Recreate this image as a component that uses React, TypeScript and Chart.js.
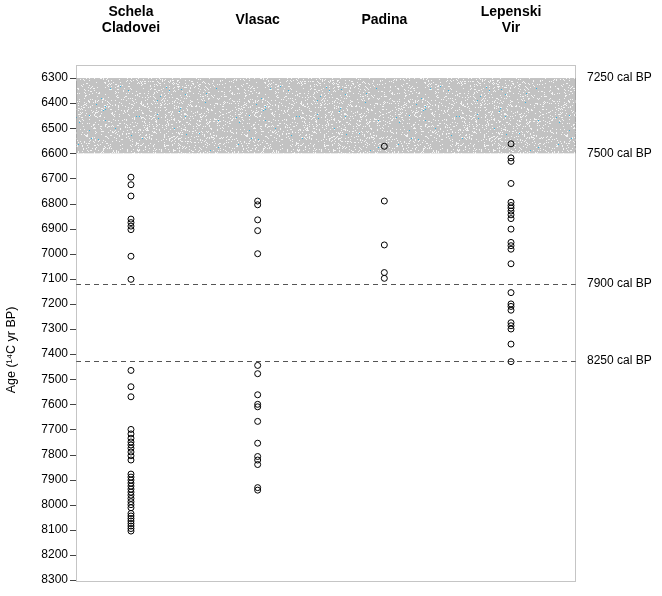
import React, { useEffect, useRef } from "react";
import { Chart, registerables } from "chart.js";

Chart.register(...registerables);

// ---- data ----
const sites = ["Schela\nCladovei", "Vlasac", "Padina", "Lepenski\nVir"];
const schelaCladovei = [
  6695, 6725, 6770, 6862, 6876, 6890, 6904, 7010, 7102,
  7465, 7530, 7570, 7700, 7718, 7735, 7750, 7762, 7775, 7790, 7805, 7822,
  7878, 7890, 7902, 7914, 7926, 7938, 7950, 7962, 7975, 7988, 8000, 8012,
  8035, 8045, 8055, 8065, 8075, 8085, 8095, 8105,
];
const vlasac = [
  6790, 6805, 6865, 6908, 7000,
  7445, 7478, 7562, 7600, 7610, 7668, 7755, 7808, 7822, 7840, 7932, 7942,
];
const padina = [6572, 6790, 6965, 7075, 7098];
const lepenskiVir = [
  6562, 6618, 6632, 6720, 6795, 6808, 6818, 6830, 6845, 6860, 6902,
  6955, 6968, 6982, 7040,
  7155, 7200, 7210, 7225, 7275, 7287, 7300, 7360, 7430,
];
const siteValues = [schelaCladovei, vlasac, padina, lepenskiVir];
const yTicks = [6300, 6400, 6500, 6600, 6700, 6800, 6900, 7000, 7100, 7200, 7300, 7400, 7500, 7600, 7700, 7800, 7900, 8000, 8100, 8200, 8300];
const bandRange = [6300, 6600];
const calLines = [
  { value: 6300, label: "7250 cal BP", dashed: false },
  { value: 6600, label: "7500 cal BP", dashed: false },
  { value: 7119, label: "7900 cal BP", dashed: true },
  { value: 7426, label: "8250 cal BP", dashed: true },
];
const yTitle = "Age (\u00B9\u2074C yr BP)";

const FONT = "'Liberation Sans', Arial, Helvetica, sans-serif";

function makePattern(ctx: CanvasRenderingContext2D) {
  const N = 160;
  const c = document.createElement("canvas");
  c.width = N;
  c.height = N;
  const p = c.getContext("2d")!;
  p.fillStyle = "#c2c2c2";
  p.fillRect(0, 0, N, N);
  let s = 12345;
  const rnd = () => {
    s = (s * 1103515245 + 12345) & 0x7fffffff;
    return s / 0x7fffffff;
  };
  for (let i = 0; i < 3200; i++) {
    const x = Math.floor(rnd() * N);
    const y = Math.floor(rnd() * N);
    p.fillStyle = "#f4f4f4";
    p.fillRect(x, y, 1, 1);
  }
  for (let i = 0; i < 90; i++) {
    const x = Math.floor(rnd() * N);
    const y = Math.floor(rnd() * N);
    p.fillStyle = "#33b5e5";
    p.fillRect(x, y, 1, 1);
  }
  return ctx.createPattern(c, "repeat")!;
}

const decorPlugin = {
  id: "decor",
  beforeDatasetsDraw(chart: any) {
    const { ctx, chartArea, scales } = chart;
    const y = scales.y;
    const x = scales.x;
    ctx.save();
    // band
    const y0 = y.getPixelForValue(bandRange[0]);
    const y1 = y.getPixelForValue(bandRange[1]);
    ctx.fillStyle = makePattern(ctx);
    ctx.fillRect(chartArea.left, y0, chartArea.right - chartArea.left, y1 - y0);
    // dashed lines
    ctx.strokeStyle = "#555";
    ctx.lineWidth = 1;
    ctx.setLineDash([5, 4]);
    calLines.forEach((l) => {
      if (!l.dashed) return;
      const py = Math.round(y.getPixelForValue(l.value)) + 0.5;
      ctx.beginPath();
      ctx.moveTo(chartArea.left, py);
      ctx.lineTo(chartArea.right, py);
      ctx.stroke();
    });
    ctx.setLineDash([]);
    // box
    ctx.strokeStyle = "#8a8a8a";
    ctx.setLineDash([1, 1]);
    ctx.strokeRect(chartArea.left + 0.5, chartArea.top + 0.5, chartArea.right - chartArea.left - 1, chartArea.bottom - chartArea.top - 1);
    ctx.setLineDash([]);
    // tick marks
    ctx.strokeStyle = "#444";
    yTicks.forEach((t) => {
      const py = Math.round(y.getPixelForValue(t)) + 0.5;
      ctx.beginPath();
      ctx.moveTo(chartArea.left - 6, py);
      ctx.lineTo(chartArea.left, py);
      ctx.stroke();
    });
    // right labels
    ctx.fillStyle = "#000";
    ctx.font = `12px ${FONT}`;
    ctx.textAlign = "left";
    ctx.textBaseline = "middle";
    calLines.forEach((l) => {
      ctx.fillText(l.label, 587, y.getPixelForValue(l.value));
    });
    // headers
    ctx.font = `bold 14px ${FONT}`;
    ctx.textAlign = "center";
    sites.forEach((s, i) => {
      const px = x.getPixelForValue(i + 1);
      const lines = s.split("\n");
      if (lines.length === 2) {
        ctx.fillText(lines[0], px, 12);
        ctx.fillText(lines[1], px, 28);
      } else {
        ctx.fillText(lines[0], px, 20);
      }
    });
    // y title
    ctx.font = `12.5px ${FONT}`;
    ctx.translate(12, 350);
    ctx.rotate(-Math.PI / 2);
    ctx.fillText(yTitle, 0, 0);
    ctx.restore();
  },
};

export default function App() {
  const ref = useRef<HTMLCanvasElement>(null);
  useEffect(() => {
    document.body.style.margin = "0";
    const datasets = siteValues.map((vals, i) => ({
      label: sites[i],
      data: vals.map((v) => ({ x: i + 1, y: v })),
      pointStyle: "circle",
      pointRadius: 3,
      pointBorderWidth: 1,
      pointBorderColor: "#000",
      pointBackgroundColor: "rgba(0,0,0,0)",
      showLine: false,
    }));
    const chart = new Chart(ref.current!, {
      type: "scatter",
      data: { datasets },
      plugins: [decorPlugin],
      options: {
        animation: false,
        responsive: false,
        layout: { padding: { left: 0, top: 65, right: 86, bottom: 14 } },
        plugins: { legend: { display: false }, tooltip: { enabled: false } },
        scales: {
          x: { type: "linear", min: 0.566, max: 4.513, display: false },
          y: {
            type: "linear",
            reverse: true,
            min: 6248,
            max: 8308,
            afterBuildTicks: (axis: any) => {
              axis.ticks = yTicks.map((v) => ({ value: v }));
            },
            afterFit: (axis: any) => {
              axis.width = 76;
            },
            ticks: {
              color: "#000",
              font: { family: FONT, size: 12 },
              padding: 2,
              autoSkip: false,
              callback: (v: any) => String(v),
            },
            grid: { drawOnChartArea: false, drawTicks: true, tickLength: 6, color: "rgba(0,0,0,0)" },
            border: { display: false },
          },
        },
      },
    });
    return () => chart.destroy();
  }, []);
  return <canvas ref={ref} width={662} height={596} style={{ display: "block" }} />;
}
